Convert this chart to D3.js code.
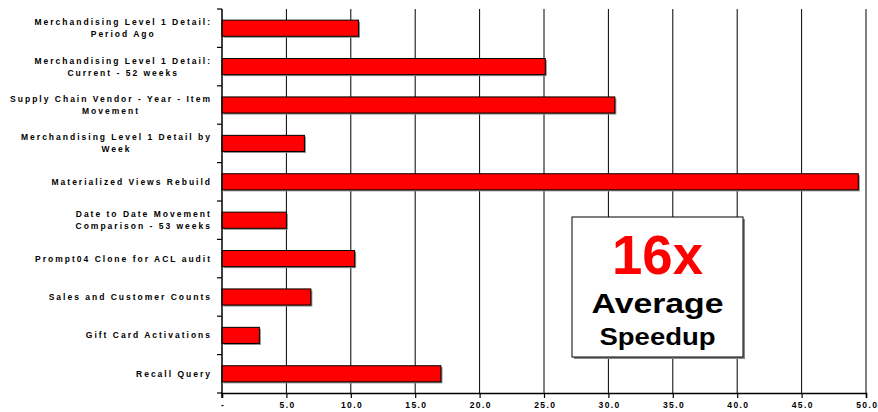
<!DOCTYPE html>
<html>
<head>
<meta charset="utf-8">
<script src="https://cdn.jsdelivr.net/npm/d3@7"></script>
<style>
  html, body { margin: 0; padding: 0; background: #fff; }
  svg { display: block; }
  .lbl { font-family: "Liberation Sans", Arial, sans-serif; font-weight: bold; font-size: 8.5px; letter-spacing: 2px; fill: #000; }
  .tk { font-family: "Liberation Sans", Arial, sans-serif; font-weight: bold; font-size: 8.5px; letter-spacing: 1.4px; fill: #000; }
</style>
</head>
<body>
<svg id="chart" width="878" height="412"></svg>
<script>
// Query categories (top to bottom), each label split into its display lines
const categories = [
  ["Merchandising Level 1 Detail:", "Period Ago"],
  ["Merchandising Level 1 Detail:", "Current - 52 weeks"],
  ["Supply Chain Vendor - Year - Item", "Movement"],
  ["Merchandising Level 1 Detail by", "Week"],
  ["Materialized Views Rebuild"],
  ["Date to Date Movement", "Comparison - 53 weeks"],
  ["Prompt04 Clone for ACL audit"],
  ["Sales and Customer Counts"],
  ["Gift Card Activations"],
  ["Recall Query"]
];
// Speedup factor per query
const speedups = [10.6, 25.1, 30.5, 6.4, 49.4, 5.0, 10.3, 6.9, 2.9, 17.0];
// X axis ticks and their labels
const xTicks = [0, 5, 10, 15, 20, 25, 30, 35, 40, 45, 50];
const xTickLabels = ["-", "5.0", "10.0", "15.0", "20.0", "25.0", "30.0", "35.0", "40.0", "45.0", "50.0"];
// Call-out text
const calloutHeadline = "16x";
const calloutLines = ["Average", "Speedup"];

const svg = d3.select("#chart");
const plotLeft = 222, plotRight = 866, plotTop = 9, plotBottom = 393;

const x = d3.scaleLinear().domain([0, 50]).range([plotLeft, plotRight]);
const keys = categories.map((c, i) => i);
const y = d3.scaleBand().domain(keys).range([plotTop, plotBottom]).paddingInner(0.58).paddingOuter(0.29);
const yb = d3.scaleBand().domain(keys).range([plotTop, plotBottom]);

// vertical gridlines
svg.append("g").selectAll("line").data(xTicks.slice(1)).join("line")
  .attr("x1", d => x(d)).attr("x2", d => x(d))
  .attr("y1", plotTop).attr("y2", plotBottom)
  .attr("stroke", "#000").attr("stroke-width", 1);

// bar shadows
svg.append("g").selectAll("rect").data(speedups).join("rect")
  .attr("x", x(0) + 1.5).attr("y", (d, i) => y(i) + 1.5)
  .attr("width", d => x(d) - x(0)).attr("height", y.bandwidth())
  .attr("fill", "#8c8c8c");

// bars
svg.append("g").selectAll("rect").data(speedups).join("rect")
  .attr("x", x(0)).attr("y", (d, i) => y(i))
  .attr("width", d => x(d) - x(0)).attr("height", y.bandwidth())
  .attr("fill", "#ff0000").attr("stroke", "#000").attr("stroke-width", 1);

// left axis with ticks at category boundaries
svg.append("line").attr("x1", plotLeft).attr("x2", plotLeft).attr("y1", plotTop).attr("y2", plotBottom + 5)
  .attr("stroke", "#000").attr("stroke-width", 1.5);
svg.append("g").selectAll("line").data(keys).join("line")
  .attr("x1", plotLeft - 5).attr("x2", plotLeft)
  .attr("y1", i => yb(i)).attr("y2", i => yb(i))
  .attr("stroke", "#000").attr("stroke-width", 1.2);
svg.append("line").attr("x1", plotLeft - 5).attr("x2", plotLeft).attr("y1", plotBottom).attr("y2", plotBottom)
  .attr("stroke", "#000").attr("stroke-width", 1.2);

// bottom axis
const xAxis = d3.axisBottom(x).tickValues(xTicks).tickSize(5)
  .tickFormat((d, i) => xTickLabels[i]);
const gx = svg.append("g").attr("transform", `translate(0,${plotBottom})`).call(xAxis);
gx.select(".domain").attr("stroke", "#000").attr("stroke-width", 1.5);
gx.selectAll(".tick line").attr("stroke", "#000").attr("stroke-width", 1.2);
gx.selectAll(".tick text").attr("class", "tk").attr("dy", null).attr("y", 15)
  .attr("dx", 0.7).attr("font-size", null).attr("font-family", null);

// category labels: each block right-aligned, lines centred within the block
const labelRight = 212;
const lg = svg.append("g");
categories.forEach((lines, i) => {
  const cy = yb(i) + yb.bandwidth() / 2;
  const g = lg.append("g");
  const texts = lines.map((t, k) => g.append("text").attr("class", "lbl").text(t)
    .attr("y", cy + (k - (lines.length - 1) / 2) * 12 + 3));
  const widths = texts.map(t => t.node().getComputedTextLength());
  const w = d3.max(widths);
  texts.forEach(t => t.attr("x", labelRight - w / 2).attr("text-anchor", "middle"));
});

// call-out box
const bx = 572, by = 217, bw = 171, bh = 140;
svg.append("rect").attr("x", bx + 2).attr("y", by + 2).attr("width", bw).attr("height", bh).attr("fill", "#8a8a8a");
svg.append("rect").attr("x", bx).attr("y", by).attr("width", bw).attr("height", bh)
  .attr("fill", "#fff").attr("stroke", "#000").attr("stroke-width", 1);
const cx = bx + bw / 2;
svg.append("text").text(calloutHeadline)
  .attr("x", cx).attr("y", 274).attr("text-anchor", "middle")
  .attr("font-family", "Liberation Sans, Arial, sans-serif").attr("font-weight", "bold")
  .attr("font-size", 56).attr("fill", "#ff0000")
  .attr("textLength", 91).attr("lengthAdjust", "spacingAndGlyphs");
svg.append("text").text(calloutLines[0])
  .attr("x", cx).attr("y", 313).attr("text-anchor", "middle")
  .attr("font-family", "Liberation Sans, Arial, sans-serif").attr("font-weight", "bold")
  .attr("font-size", 27).attr("fill", "#000")
  .attr("textLength", 132).attr("lengthAdjust", "spacingAndGlyphs");
svg.append("text").text(calloutLines[1])
  .attr("x", cx).attr("y", 345).attr("text-anchor", "middle")
  .attr("font-family", "Liberation Sans, Arial, sans-serif").attr("font-weight", "bold")
  .attr("font-size", 24).attr("fill", "#000")
  .attr("textLength", 116).attr("lengthAdjust", "spacingAndGlyphs");
</script>
</body>
</html>
